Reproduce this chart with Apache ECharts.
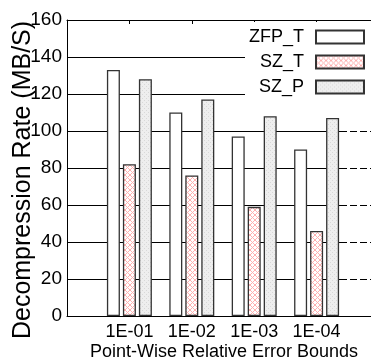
<!DOCTYPE html>
<html><head><meta charset="utf-8">
<script src="https://cdn.jsdelivr.net/npm/echarts@6/dist/echarts.min.js"></script>
<style>html,body{margin:0;padding:0;background:#fff}#c{width:371px;height:361px}</style>
</head><body><div id="c"></div>
<script>
var categories = ['1E-01', '1E-02', '1E-03', '1E-04'];
var seriesNames = ['ZFP_T', 'SZ_T', 'SZ_P'];
var zfpT = [133, 110, 97, 90];
var szT = [82, 76, 59, 46];
var szP = [128, 117, 108, 107];
var yTicks = [0, 20, 40, 60, 80, 100, 120, 140, 160];

function pattern(bg, fg, size, kind) {
  var c = document.createElement('canvas');
  c.width = size; c.height = size;
  var g = c.getContext('2d');
  g.fillStyle = bg; g.fillRect(0, 0, size, size);
  g.strokeStyle = fg; g.fillStyle = fg; g.lineWidth = 1;
  if (kind === 'cross') {
    g.beginPath();
    g.moveTo(0, 0); g.lineTo(size, size);
    g.moveTo(size, 0); g.lineTo(0, size);
    g.stroke();
  } else {
    g.fillRect(0, 0, 1, 1);
    g.fillRect(size / 2, size / 2, 1, 1);
  }
  return c;
}
var pinkPat = { image: pattern('#ffffff', '#ffb0b0', 5, 'cross'), repeat: 'repeat' };
var grayPat = { image: pattern('#eeeeee', '#d8d8d8', 4, 'dots'), repeat: 'repeat' };

function pairs(arr) { return arr.map(function (v, i) { return [i + 1, v]; }); }

var FONT = 'Liberation Sans, Arial, sans-serif';
var chart = echarts.init(document.getElementById('c'), null, { renderer: 'canvas' });
var border = { borderColor: '#333', borderWidth: 1.3 };

chart.setOption({
  animation: false,
  backgroundColor: '#fff',
  grid: [
    { left: 67, right: 31, top: 20, bottom: 45 },
    { left: 340, right: 0, top: 20, bottom: 45 }
  ],
  xAxis: [
    { type: 'value', gridIndex: 0, position: 'bottom', min: 0, max: 4.375, interval: 1,
      axisLine: { show: true, lineStyle: { color: '#000', width: 1 } },
      axisTick: { show: false }, splitLine: { show: false },
      axisLabel: { customValues: [1, 2, 3, 4], margin: 7, color: '#000', fontSize: 18, fontFamily: FONT,
        formatter: function (v) { return categories[v - 1] || ''; } } },
    { type: 'value', gridIndex: 0, position: 'top', min: 0, max: 4.375, interval: 1,
      axisLine: { show: true, lineStyle: { color: '#000', width: 1 } },
      axisTick: { show: true, inside: true, length: 4, customValues: [1, 2, 3, 4], lineStyle: { color: '#000' } },
      splitLine: { show: false }, axisLabel: { show: false } },
    { type: 'value', gridIndex: 1, position: 'bottom', min: 0, max: 1,
      axisLine: { show: true, lineStyle: { color: '#000', width: 1 } },
      axisTick: { show: false }, splitLine: { show: false }, axisLabel: { show: false } },
    { type: 'value', gridIndex: 1, position: 'top', min: 0, max: 1,
      axisLine: { show: true, lineStyle: { color: '#000', width: 1 } },
      axisTick: { show: false }, splitLine: { show: false }, axisLabel: { show: false } }
  ],
  yAxis: [
    { type: 'value', gridIndex: 0, min: yTicks[0], max: yTicks[yTicks.length - 1], interval: 20,
      axisLine: { show: true, lineStyle: { color: '#000', width: 1 } },
      axisTick: { show: false },
      splitLine: { show: true, lineStyle: { color: '#000', width: 1 } },
      axisLabel: { margin: 5, color: '#000', fontSize: 19, fontFamily: FONT } },
    { type: 'value', gridIndex: 1, min: yTicks[0], max: yTicks[yTicks.length - 1], interval: 20,
      axisLine: { show: false }, axisTick: { show: false }, axisLabel: { show: false },
      splitLine: { show: true, lineStyle: { color: '#000', width: 1, type: [7, 3] } } }
  ],
  legend: {
    orient: 'vertical', align: 'right', right: 0, top: 22, icon: 'rect',
    padding: [6, 6, 6, 4], itemGap: 7, itemWidth: 48, itemHeight: 13,
    backgroundColor: '#fff',
    textStyle: { color: '#000', fontSize: 18, fontFamily: FONT, padding: [0, 7, 0, 0] },
    data: seriesNames
  },
  series: [
    { name: seriesNames[0], type: 'bar', xAxisIndex: 0, yAxisIndex: 0, data: pairs(zfpT),
      barWidth: 13, barGap: '23%', itemStyle: Object.assign({ color: '#ffffff' }, border) },
    { name: seriesNames[1], type: 'bar', xAxisIndex: 0, yAxisIndex: 0, data: pairs(szT),
      barWidth: 13, barGap: '23%', itemStyle: Object.assign({ color: pinkPat }, border) },
    { name: seriesNames[2], type: 'bar', xAxisIndex: 0, yAxisIndex: 0, data: pairs(szP),
      barWidth: 13, barGap: '23%', itemStyle: Object.assign({ color: grayPat }, border) }
  ],
  graphic: [
    { type: 'text', x: 23, y: 180, rotation: Math.PI / 2,
      style: { text: 'Decompression Rate (MB/S)', align: 'center', verticalAlign: 'middle',
        fill: '#000', font: '25px ' + FONT } },
    { type: 'text', x: 224, y: 352,
      style: { text: 'Point-Wise Relative Error Bounds', align: 'center', verticalAlign: 'middle',
        fill: '#000', font: '18px ' + FONT } }
  ]
});
</script></body></html>
